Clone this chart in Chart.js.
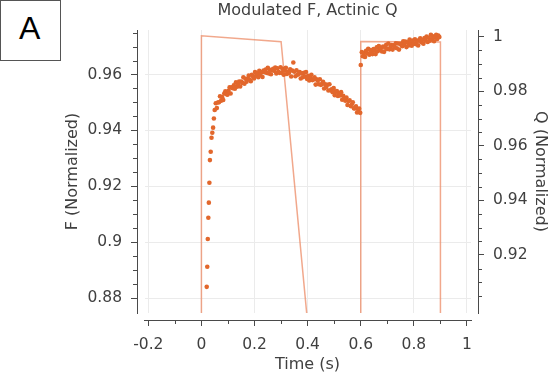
<!DOCTYPE html>
<html><head><meta charset="utf-8">
<script src="https://cdn.jsdelivr.net/npm/chart.js@4"></script>
<style>
html,body{margin:0;padding:0;background:#fff;}
#wrap{position:relative;width:556px;height:380px;overflow:hidden;}
canvas{position:absolute;left:0;top:0;}
#panel{position:absolute;left:0;top:0;width:59px;height:59px;border:1px solid #555;background:#fff;
  font-family:"Liberation Sans",Arial,sans-serif;font-size:32px;line-height:55px;text-align:left;
  padding-left:0;box-sizing:content-box;color:#000;}
#panel span{position:absolute;left:18px;top:0;}
</style></head>
<body><div id="wrap"><canvas id="c" width="556" height="380"></canvas><div id="panel"><span>A</span></div></div>
<script>
// ---------- data ----------
const TITLE = 'Modulated F, Actinic Q';
const X_TITLE = 'Time (s)';
const F_TITLE = 'F (Normalized)';
const Q_TITLE = 'Q (Normalized)';

const X_TICKS = [-0.2, 0, 0.2, 0.4, 0.6, 0.8, 1];
const X_MINOR = [-0.1, 0.1, 0.3, 0.5, 0.7, 0.9];
const F_TICKS = [0.88, 0.9, 0.92, 0.94, 0.96];
const F_MINOR = [0.885,0.89,0.895,0.905,0.91,0.915,0.925,0.93,0.935,0.945,0.95,0.955,0.965,0.97,0.975];
const Q_TICKS = [0.92, 0.94, 0.96, 0.98, 1];
const Q_MINOR = [0.905,0.91,0.915,0.925,0.93,0.935,0.945,0.95,0.955,0.965,0.97,0.975,0.985,0.99,0.995];

// F: onset of actinic light
const F_T_ONSET = [0.020,0.022,0.024,0.026,0.028,0.030,0.032,0.035,0.038,0.041,0.044,0.047];
const F_V_ONSET = [0.8841,0.8913,0.9012,0.9088,0.9142,0.9213,0.9294,0.9324,0.9374,0.9392,0.9410,0.9443];
// F: first light period
const F_T_LIGHT1 = [0.050,0.054,0.058,0.062,0.066,0.070,0.074,0.078,0.082,0.086,0.090,0.094,0.098,0.102,0.106,0.110,0.114,0.118,0.122,0.126,0.130,0.134,0.138,0.142,0.146,0.150,0.154,0.158,0.162,0.166,0.170,0.174,0.178,0.182,0.186,0.190,0.194,0.198,0.202,0.206,0.210,0.214,0.218,0.222,0.226,0.230,0.234,0.238,0.242,0.246,0.250,0.254,0.258,0.262,0.266,0.270,0.274,0.278,0.282,0.286,0.290,0.294,0.298];
const F_V_LIGHT1 = [0.9473,0.9497,0.9480,0.9500,0.9501,0.9522,0.9506,0.9519,0.9509,0.9532,0.9540,0.9530,0.9528,0.9542,0.9554,0.9532,0.9554,0.9551,0.9561,0.9549,0.9572,0.9556,0.9564,0.9575,0.9557,0.9575,0.9570,0.9590,0.9567,0.9585,0.9574,0.9585,0.9596,0.9582,0.9576,0.9599,0.9594,0.9586,0.9609,0.9596,0.9604,0.9590,0.9613,0.9598,0.9608,0.9591,0.9614,0.9608,0.9618,0.9606,0.9624,0.9604,0.9617,0.9601,0.9615,0.9620,0.9613,0.9625,0.9604,0.9622,0.9610,0.9606,0.9626];
// F: dark period
const F_T_DARK = [0.302,0.306,0.310,0.314,0.318,0.322,0.326,0.330,0.334,0.338,0.342,0.346,0.350,0.354,0.358,0.362,0.366,0.370,0.374,0.378,0.382,0.386,0.390,0.394,0.398,0.402,0.406,0.410,0.414,0.418,0.422,0.426,0.430,0.434,0.438,0.442,0.446,0.450,0.454,0.458,0.462,0.466,0.470,0.474,0.478,0.482,0.486,0.490,0.494,0.498,0.502,0.506,0.510,0.514,0.518,0.522,0.526,0.530,0.534,0.538,0.542,0.546,0.550,0.554,0.558,0.562,0.566,0.570,0.574,0.578,0.582,0.586,0.590,0.594,0.598];
const F_V_DARK = [0.9606,0.9620,0.9599,0.9614,0.9624,0.9602,0.9610,0.9606,0.9619,0.9593,0.9614,0.9643,0.9610,0.9594,0.9615,0.9599,0.9602,0.9609,0.9586,0.9604,0.9590,0.9606,0.9593,0.9609,0.9584,0.9595,0.9579,0.9590,0.9599,0.9580,0.9582,0.9590,0.9564,0.9583,0.9578,0.9565,0.9583,0.9563,0.9566,0.9574,0.9550,0.9565,0.9555,0.9563,0.9543,0.9565,0.9544,0.9547,0.9537,0.9552,0.9526,0.9538,0.9541,0.9523,0.9533,0.9525,0.9537,0.9510,0.9524,0.9515,0.9506,0.9518,0.9491,0.9505,0.9508,0.9487,0.9493,0.9501,0.9479,0.9479,0.9486,0.9464,0.9476,0.9478,0.9463];
// F: second light period
const F_T_LIGHT2 = [0.600,0.604,0.608,0.612,0.616,0.620,0.624,0.628,0.632,0.636,0.640,0.644,0.648,0.652,0.656,0.660,0.664,0.668,0.672,0.676,0.680,0.684,0.688,0.692,0.696,0.700,0.704,0.708,0.712,0.716,0.720,0.724,0.728,0.732,0.736,0.740,0.744,0.748,0.752,0.756,0.760,0.764,0.768,0.772,0.776,0.780,0.784,0.788,0.792,0.796,0.800,0.804,0.808,0.812,0.816,0.820,0.824,0.828,0.832,0.836,0.840,0.844,0.848,0.852,0.856,0.860,0.864,0.868,0.872,0.876,0.880,0.884,0.888,0.892,0.896];
const F_V_LIGHT2 = [0.9634,0.9680,0.9665,0.9677,0.9663,0.9685,0.9676,0.9692,0.9671,0.9687,0.9679,0.9673,0.9691,0.9687,0.9673,0.9697,0.9683,0.9702,0.9689,0.9695,0.9682,0.9700,0.9681,0.9696,0.9706,0.9691,0.9711,0.9690,0.9698,0.9705,0.9689,0.9704,0.9698,0.9712,0.9694,0.9711,0.9689,0.9710,0.9707,0.9701,0.9719,0.9706,0.9718,0.9698,0.9715,0.9704,0.9725,0.9713,0.9703,0.9721,0.9710,0.9726,0.9708,0.9719,0.9704,0.9724,0.9729,0.9715,0.9724,0.9710,0.9730,0.9722,0.9736,0.9716,0.9731,0.9721,0.9742,0.9726,0.9737,0.9719,0.9733,0.9742,0.9727,0.9739,0.9734];

// Q: actinic light
const Q_TIME  = [0, 0, 0.3, 0.4, 0.6, 0.6, 0.9, 0.9];
const Q_VALUE = [0.895, 1.0003, 0.9981, 0.895, 0.895, 0.9982, 0.9980, 0.895];

// ---------- styling ----------
const FONT = "'DejaVu Sans', sans-serif";
const TEXT = '#404040';
const AXIS = '#4a4a4a';
const GRID = '#ebebeb';
const F_COLOR = '#e2672c';
const Q_COLOR = 'rgba(236,135,95,0.72)';

function pts(ts, vs){ return ts.map((t,i)=>({x:t, y:vs[i]})); }
const fPoints = [].concat(
  pts(F_T_ONSET, F_V_ONSET), pts(F_T_LIGHT1, F_V_LIGHT1),
  pts(F_T_DARK, F_V_DARK), pts(F_T_LIGHT2, F_V_LIGHT2));
const qPoints = pts(Q_TIME, Q_VALUE);

const setTicks = arr => s => { s.ticks = arr.map(v => ({value: v})); };
const fmt = v => String(v);

const minorTicks = {
  id: 'minorTicks',
  afterDraw(chart){
    const ctx = chart.ctx, sx = chart.scales.x, sf = chart.scales.yF, sq = chart.scales.yQ;
    ctx.save();
    ctx.strokeStyle = AXIS; ctx.lineWidth = 1;
    ctx.beginPath();
    X_MINOR.forEach(v => { const p = Math.round(sx.getPixelForValue(v)) + 0.5; ctx.moveTo(p, sx.top); ctx.lineTo(p, sx.top + 4); });
    F_MINOR.forEach(v => { const p = Math.round(sf.getPixelForValue(v)) + 0.5; ctx.moveTo(sf.right, p); ctx.lineTo(sf.right - 4, p); });
    Q_MINOR.forEach(v => { const p = Math.round(sq.getPixelForValue(v)) + 0.5; ctx.moveTo(sq.left, p); ctx.lineTo(sq.left + 4, p); });
    ctx.stroke();
    ctx.restore();
  }
};

const gapScale = (pos, size) => ({
  type: 'linear', position: pos, display: true, weight: 0,
  ticks: {display: false},
  grid: {drawOnChartArea: false, drawTicks: true, tickLength: size, color: 'rgba(0,0,0,0)'},
  border: {display: false},
  afterFit: s => { if (pos === 'bottom') s.height = size; else s.width = size; }
});

new Chart(document.getElementById('c'), {
  type: 'scatter',
  data: {
    datasets: [
      {label: 'F', data: fPoints, xAxisID: 'x', yAxisID: 'yF', order: 1,
       pointRadius: 2.3, pointHoverRadius: 2.3, backgroundColor: F_COLOR, borderWidth: 0, showLine: false},
      {label: 'Q', type: 'line', data: qPoints, xAxisID: 'x', yAxisID: 'yQ', order: 2,
       borderColor: Q_COLOR, borderWidth: 1.5, pointRadius: 0, fill: false, tension: 0}
    ]
  },
  options: {
    responsive: false, animation: false, devicePixelRatio: 1,
    layout: {padding: 0},
    plugins: {
      legend: {display: false}, tooltip: {enabled: false},
      title: {display: true, text: TITLE, fullSize: false, color: TEXT,
              font: {family: FONT, size: 16, weight: 'normal'}, padding: {top: 1.4, bottom: 9.4}}
    },
    scales: {
      x: {
        type: 'linear', position: 'bottom', weight: 1, min: -0.2162, max: 1.0151,
        afterBuildTicks: setTicks(X_TICKS),
        ticks: {callback: fmt, color: TEXT, font: {family: FONT, size: 15.5}, padding: 9.5, maxRotation: 0, autoSkip: false},
        grid: {color: GRID, lineWidth: 1, drawTicks: true, tickLength: 6, tickColor: AXIS, tickWidth: 1},
        border: {display: true, color: AXIS, width: 1},
        title: {display: true, text: X_TITLE, color: TEXT, font: {family: FONT, size: 16}, padding: {top: 0, bottom: 5.4}},
        afterFit: s => { s.height = 60; }
      },
      xGap: gapScale('bottom', 7),
      yF: {
        type: 'linear', position: 'left', weight: 1, min: 0.87475, max: 0.97591,
        afterBuildTicks: setTicks(F_TICKS),
        ticks: {callback: fmt, color: TEXT, font: {family: FONT, size: 15.5}, padding: 9, autoSkip: false},
        grid: {color: GRID, lineWidth: 1, drawTicks: true, tickLength: 6, tickColor: AXIS, tickWidth: 1},
        border: {display: true, color: AXIS, width: 1},
        title: {display: true, text: F_TITLE, color: TEXT, font: {family: FONT, size: 16}, padding: {top: 63, bottom: 0}},
        afterFit: s => { s.width = 137; }
      },
      yGapL: gapScale('left', 7),
      yQ: {
        type: 'linear', position: 'right', weight: 1, min: 0.89875, max: 1.00242,
        afterBuildTicks: setTicks(Q_TICKS),
        ticks: {callback: fmt, color: TEXT, font: {family: FONT, size: 15.5}, padding: 9, autoSkip: false},
        grid: {drawOnChartArea: false, drawTicks: true, tickLength: 6, tickColor: AXIS, tickWidth: 1, color: AXIS},
        border: {display: true, color: AXIS, width: 1},
        title: {display: true, text: Q_TITLE, color: TEXT, font: {family: FONT, size: 16}, padding: {top: 6.4, bottom: 0}},
        afterFit: s => { s.width = 78; }
      },
      yGapR: gapScale('right', 7)
    }
  },
  plugins: [minorTicks]
});
</script></body></html>
